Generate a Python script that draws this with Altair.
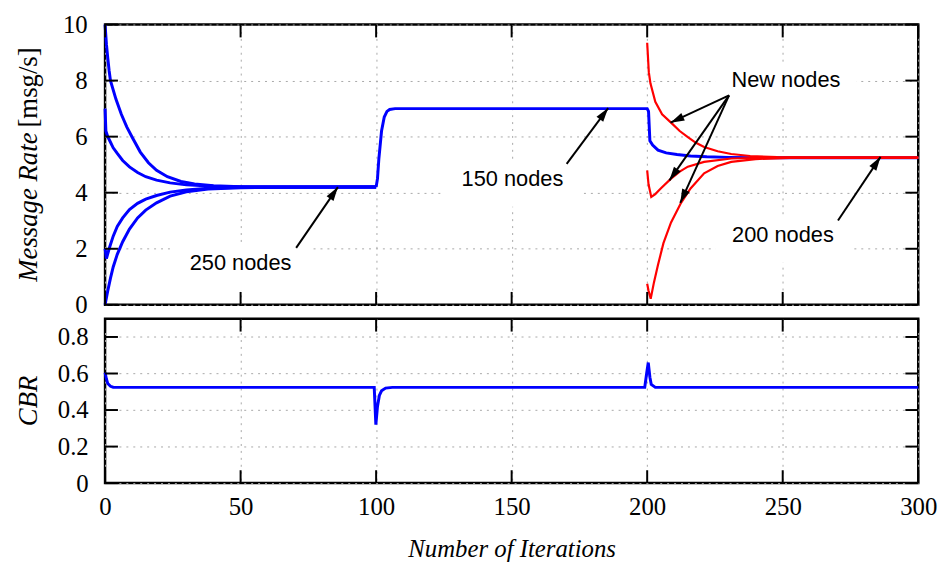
import math
import altair as alt
import pandas as pd

# ---------------- data ----------------
X_TICKS = [0, 50, 100, 150, 200, 250, 300]
RATE_TICKS = [0, 2, 4, 6, 8, 10]
CBR_TICKS = [0, 0.2, 0.4, 0.6, 0.8]

# 250-node phase: four initial conditions
A_X = [0, 0.5, 1, 1.5, 2, 4, 6, 8, 10, 13, 16, 19, 23, 28, 33, 40, 50, 100]
A_Y = [10, 9.3, 8.8, 8.35, 8.0, 7.34, 6.8, 6.35, 5.98, 5.45, 5.07, 4.8, 4.57, 4.4, 4.31, 4.25, 4.21, 4.2]
B_X = [0, 0.3, 1, 2, 3, 4.5, 6.5, 9, 12, 15, 19, 24, 30, 40, 55, 100]
B_Y = [7.0, 6.2, 6.0, 5.8, 5.6, 5.4, 5.15, 4.92, 4.72, 4.57, 4.45, 4.35, 4.28, 4.23, 4.2, 4.2]
C_X = [0, 0.5, 1.5, 3, 4.5, 6.5, 9, 12, 15, 19, 24, 30, 38, 50, 100]
C_Y = [2.0, 1.65, 2.0, 2.45, 2.8, 3.1, 3.4, 3.62, 3.77, 3.9, 4.02, 4.1, 4.16, 4.19, 4.2]
D_X = [0, 1, 2, 3, 4.5, 6.5, 9, 12, 15, 19, 24, 30, 38, 50, 100]
D_Y = [0.0, 0.5, 0.95, 1.35, 1.8, 2.25, 2.7, 3.1, 3.38, 3.64, 3.88, 4.03, 4.13, 4.18, 4.2]
# 150-node and 200-node phases (existing nodes)
M_X = [100, 100.5, 101, 102, 103, 104, 105, 107, 200, 200.5, 201, 202, 204, 207, 211, 216, 222, 230, 240, 300]
M_Y = [4.2, 4.5, 5.2, 6.2, 6.7, 6.9, 6.97, 7.0, 7.0, 6.9, 5.85, 5.7, 5.52, 5.42, 5.36, 5.31, 5.28, 5.26, 5.25, 5.25]
# new nodes (red)
R1_X = [200, 200.6, 201.2, 203, 205.5, 208.8, 212, 215, 218, 221, 226, 231, 238, 248, 260, 300]
R1_Y = [9.35, 8.3, 7.9, 7.24, 6.8, 6.5, 6.2, 5.98, 5.78, 5.63, 5.48, 5.38, 5.31, 5.27, 5.25, 5.25]
R2_X = [200, 200.5, 201.5, 203, 205, 208.8, 212, 215, 221, 231, 245, 300]
R2_Y = [4.8, 4.3, 3.85, 3.95, 4.15, 4.5, 4.75, 4.93, 5.1, 5.22, 5.25, 5.25]
R3_X = [200, 200.5, 201.3, 202.5, 204, 206, 208.8, 212.5, 216, 221, 226, 231, 240, 255, 300]
R3_Y = [0.75, 0.5, 0.22, 0.8, 1.43, 2.2, 2.94, 3.64, 4.15, 4.69, 4.95, 5.1, 5.2, 5.25, 5.25]
# channel busy ratio
CBR_X = [0, 0.5, 1, 2, 3, 5, 99.3, 99.9, 100.5, 101.2, 102, 103.5, 106, 199.1, 199.8, 200.4, 201, 201.5, 203, 300]
CBR_Y = [0.605, 0.57, 0.545, 0.53, 0.525, 0.524, 0.524, 0.32, 0.42, 0.48, 0.505, 0.52, 0.524, 0.524, 0.6, 0.66, 0.58, 0.54, 0.524, 0.524]

# annotations
LABEL_TEXT = ["250 nodes", "150 nodes", "New nodes", "200 nodes"]
LABEL_X = [50, 150.3, 251.2, 250.1]
LABEL_Y = [1.23, 4.23, 7.76, 2.24]
BOX_X1 = [24.8, 125.3, 225.1, 225.1]
BOX_X2 = [76.0, 175.4, 277.3, 275.1]
BOX_Y1 = [0.5, 3.5, 7.02, 1.5]
BOX_Y2 = [2.14, 5.14, 8.66, 3.16]
ARROW_TX = [70.5, 170.3, 230.2, 230.2, 230.2, 270.4]
ARROW_TY = [2.03, 5.03, 7.47, 7.47, 7.47, 3.01]
ARROW_HX = [85.9, 185.6, 208.6, 208.2, 212.2, 286.1]
ARROW_HY = [4.2, 7.02, 6.5, 4.44, 3.64, 5.28]

Y_TITLE_TOP = ["Message Rate", "[msg/s]"]
Y_TITLE_BOTTOM = ["CBR"]
X_TITLE = "Number of Iterations"

# ---------------- layout / style ----------------
W = 821
H1 = 283
H2 = 166
TICK_LEN = 13
SERIF = "Liberation Serif"
SANS = "Liberation Sans"

xscale = alt.Scale(domain=[0, 300], nice=False, zero=False)
y1scale = alt.Scale(domain=[0, 10], nice=False, zero=False)
y2scale = alt.Scale(domain=[0, 0.9], nice=False, zero=False)

AX = dict(ticks=False, domain=False, grid=True, gridColor="#a8a8a8", gridDash=[2, 5], gridWidth=1,
          gridOpacity=1, labelFont=SERIF, labelFontSize=25, labelColor="black", labelFlush=False)

x_axis_top = alt.Axis(values=X_TICKS, labels=False, title=None, **AX)
x_axis_bot = alt.Axis(values=X_TICKS, title=X_TITLE,
                      labelPadding=12, titlePadding=17, titleFont=SERIF, titleFontSize=25,
                      titleFontStyle="italic", titleFontWeight="normal", titleColor="black", **AX)
y_axis_top = alt.Axis(values=RATE_TICKS, title=None, labelPadding=18, **AX)
y_axis_bot = alt.Axis(values=CBR_TICKS, title=None, labelPadding=17, format=".1~f", **AX)


def X(field, axis):
    return alt.X(field, type="quantitative", scale=xscale, axis=axis)


def Y(field, scale, axis):
    return alt.Y(field, type="quantitative", scale=scale, axis=axis)


def series_df(pairs):
    rows = []
    for name, xs, ys in pairs:
        for i, (a, b) in enumerate(zip(xs, ys)):
            rows.append({"s": name, "x": a, "y": b, "i": i})
    return pd.DataFrame(rows)


blue_df = series_df([("A", A_X, A_Y), ("B", B_X, B_Y), ("C", C_X, C_Y), ("D", D_X, D_Y), ("M", M_X, M_Y)])
red_df = series_df([("R1", R1_X, R1_Y), ("R2", R2_X, R2_Y), ("R3", R3_X, R3_Y)])
cbr_df = series_df([("CBR", CBR_X, CBR_Y)])


def ticks(ticks_x, ticks_y, yscale, xa, ya, H):
    tx = pd.DataFrame({"x": ticks_x})
    ty = pd.DataFrame({"y": ticks_y})
    r = dict(color="black", strokeWidth=2)
    return [
        alt.Chart(tx).mark_rule(**r).encode(x=X("x", xa), y=alt.value(H), y2=alt.value(H - TICK_LEN)),
        alt.Chart(tx).mark_rule(**r).encode(x=X("x", xa), y=alt.value(0), y2=alt.value(TICK_LEN)),
        alt.Chart(ty).mark_rule(**r).encode(y=Y("y", yscale, ya), x=alt.value(0), x2=alt.value(TICK_LEN)),
        alt.Chart(ty).mark_rule(**r).encode(y=Y("y", yscale, ya), x=alt.value(W), x2=alt.value(W - TICK_LEN)),
    ]


# ---------------- top panel ----------------
boxes = pd.DataFrame({"x": BOX_X1, "x2": BOX_X2, "y": BOX_Y1, "y2": BOX_Y2})
box_layer = alt.Chart(boxes).mark_rect(color="white").encode(
    x=X("x", x_axis_top), x2="x2:Q", y=Y("y", y1scale, y_axis_top), y2="y2:Q")

blue_layer = alt.Chart(blue_df).mark_line(color="#0000ff", strokeWidth=3).encode(
    x=X("x", x_axis_top), y=Y("y", y1scale, y_axis_top), detail="s:N", order="i:Q")
red_layer = alt.Chart(red_df).mark_line(color="#ff0000", strokeWidth=2.2).encode(
    x=X("x", x_axis_top), y=Y("y", y1scale, y_axis_top), detail="s:N", order="i:Q")

px_x = W / 300.0
px_y = H1 / 10.0
angs = [math.degrees(math.atan2((hx - tx) * px_x, (hy - ty) * px_y)) % 360
        for tx, ty, hx, hy in zip(ARROW_TX, ARROW_TY, ARROW_HX, ARROW_HY)]
arrows = pd.DataFrame({"x": ARROW_TX, "y": ARROW_TY, "x2": ARROW_HX, "y2": ARROW_HY, "ang": angs})
arrow_lines = alt.Chart(arrows).mark_rule(color="black", strokeWidth=2).encode(
    x=X("x", x_axis_top), y=Y("y", y1scale, y_axis_top), x2="x2:Q", y2="y2:Q")
arrow_heads = alt.Chart(arrows).mark_point(
    shape="M0,0L-0.6,2L0.6,2Z", filled=True, fill="black", strokeWidth=0, opacity=1, size=196
).encode(x=X("x2", x_axis_top), y=Y("y2", y1scale, y_axis_top), angle=alt.Angle("ang:Q", scale=None))

labels = pd.DataFrame({"x": LABEL_X, "y": LABEL_Y, "t": LABEL_TEXT})
label_layer = alt.Chart(labels).mark_text(font=SANS, fontSize=22, color="black", baseline="alphabetic",
                                          align="center").encode(
    x=X("x", x_axis_top), y=Y("y", y1scale, y_axis_top), text="t:N")

ytitle_a = alt.Chart(pd.DataFrame({"t": [Y_TITLE_TOP[0]]})).mark_text(
    font=SERIF, fontSize=27, fontStyle="italic", color="black", angle=270, align="right",
    baseline="alphabetic").encode(text="t:N", x=alt.value(-69), y=alt.value(109))
ytitle_b = alt.Chart(pd.DataFrame({"t": [Y_TITLE_TOP[1]]})).mark_text(
    font=SERIF, fontSize=27, color="black", angle=270, align="left",
    baseline="alphabetic").encode(text="t:N", x=alt.value(-69), y=alt.value(104))

top = alt.layer(
    box_layer, blue_layer, red_layer,
    *ticks(X_TICKS, RATE_TICKS, y1scale, x_axis_top, y_axis_top, H1),
    arrow_lines, arrow_heads, label_layer, ytitle_a, ytitle_b,
).properties(width=W, height=H1)

# ---------------- bottom panel ----------------
cbr_layer = alt.Chart(cbr_df).mark_line(color="#0000ff", strokeWidth=3).encode(
    x=X("x", x_axis_bot), y=Y("y", y2scale, y_axis_bot), detail="s:N", order="i:Q")
ytitle_c = alt.Chart(pd.DataFrame({"t": Y_TITLE_BOTTOM})).mark_text(
    font=SERIF, fontSize=27, fontStyle="italic", color="black", angle=270, align="center",
    baseline="alphabetic").encode(text="t:N", x=alt.value(-69), y=alt.value(H2 / 2))

bottom = alt.layer(
    cbr_layer,
    *ticks(X_TICKS, CBR_TICKS, y2scale, x_axis_bot, y_axis_bot, H2),
    ytitle_c,
).properties(width=W, height=H2)

chart = alt.vconcat(top, bottom, spacing=14, bounds="flush").properties(
    padding={"left": 5, "top": 0, "right": 5, "bottom": 0},
    background="white",
).configure_view(
    stroke="black", strokeWidth=2.5
)

chart.save("out.html", embed_options={"renderer": "svg", "actions": False})
